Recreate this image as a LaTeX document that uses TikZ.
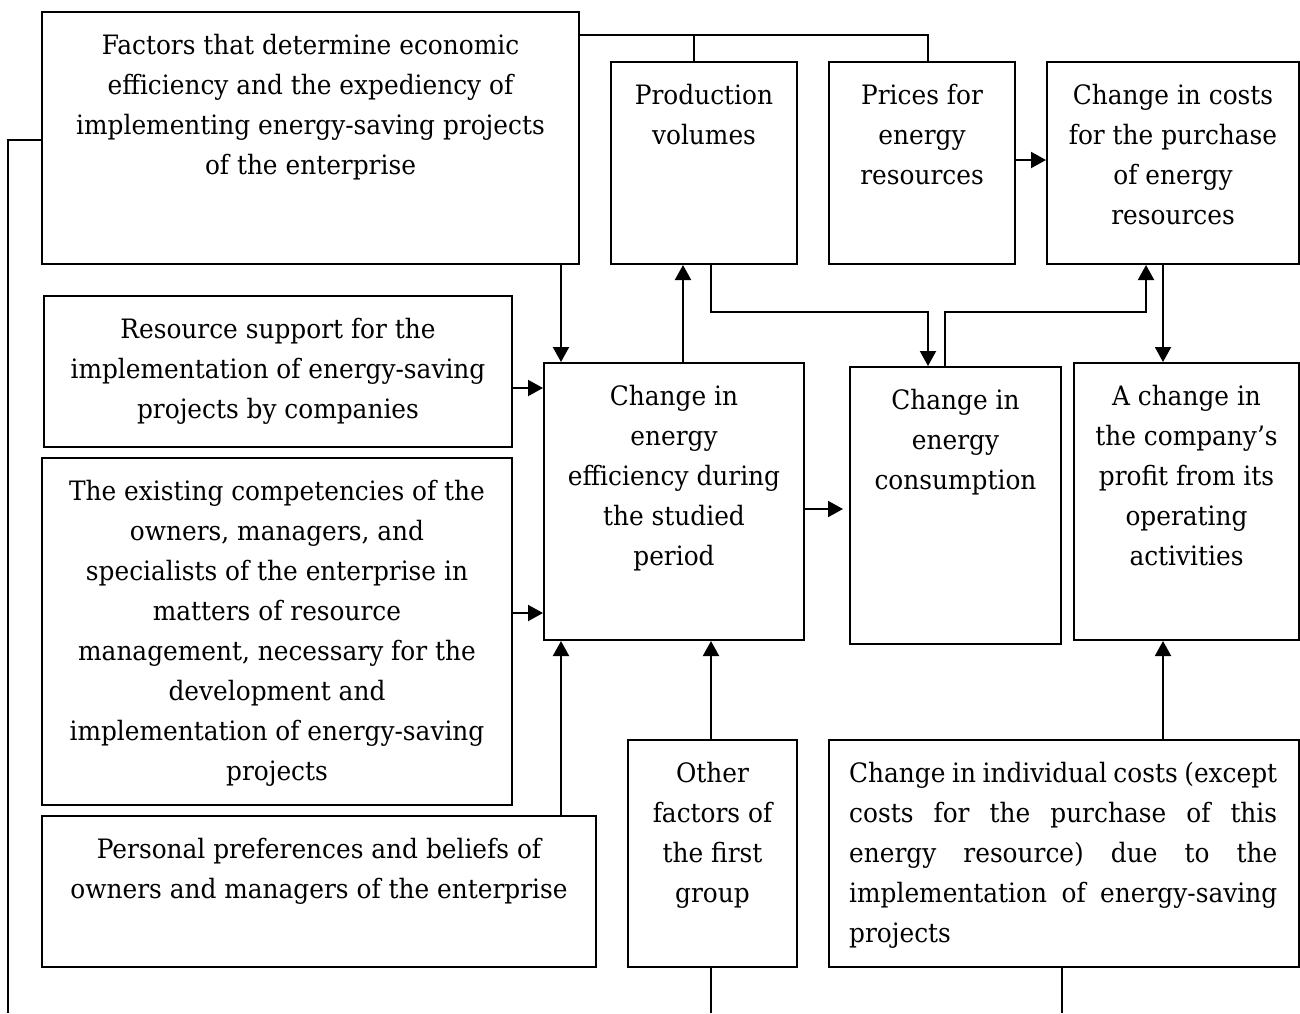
\documentclass[tikz,border=0pt]{standalone}
\usepackage{fontspec}
\setmainfont{DejaVu Serif}[FakeStretch=0.93]
\usetikzlibrary{arrows.meta}
\begin{document}
\begin{tikzpicture}[x=1pt,y=-1pt,
  box/.style={draw, line width=2pt, rectangle, inner sep=0pt, anchor=north west},
  txt/.style={inner sep=0pt, align=center, anchor=north, font={\fontsize{26.7pt}{40pt}\selectfont}},
  conn/.style={line width=2pt},
  arr/.style={line width=2pt, -{Triangle[length=15pt,width=16pt]}}]
\useasboundingbox[fill=white] (0,0) rectangle (1300,1013);
\newcommand{\bx}[5]{\node[box, minimum width=#4-#2, minimum height=#5-#3] (#1) at (#2,#3) {};}
\newcommand{\st}{\rule{0pt}{30pt}}
% boxes
\bx{fac}{41}{11}{578}{263}
\bx{prod}{610}{61}{796}{263}
\bx{price}{828}{61}{1014}{263}
\bx{cost}{1046}{61}{1298}{263}
\bx{res}{43}{295}{511}{446}
\bx{comp}{41}{457}{511}{804}
\bx{pers}{41}{815}{595}{966}
\bx{eff}{543}{362}{803}{639}
\bx{cons}{849}{366}{1060}{643}
\bx{prof}{1073}{362}{1298}{639}
\bx{oth}{627}{739}{796}{966}
\bx{ind}{828}{739}{1298}{966}
% texts
\node[txt] (facT) at ([yshift=-13.5pt]fac.north) {\st Factors that determine economic\\efficiency and the expediency of\\implementing energy-saving projects\\of the enterprise};
\node[txt] (prodT) at ([yshift=-13.5pt]prod.north) {\st Production\\volumes};
\node[txt] (priceT) at ([yshift=-13.5pt]price.north) {\st Prices for\\energy\\resources};
\node[txt] (costT) at ([yshift=-13.5pt]cost.north) {\st Change in costs\\for the purchase\\of energy\\resources};
\node[txt] (resT) at ([yshift=-13.5pt]res.north) {\st Resource support for the\\implementation of energy-saving\\projects by companies};
\node[txt] (compT) at ([yshift=-13.5pt]comp.north) {\st The existing competencies of the\\owners, managers, and\\specialists of the enterprise in\\matters of resource\\management, necessary for the\\development and\\implementation of energy-saving\\projects};
\node[txt] (persT) at ([yshift=-13.5pt]pers.north) {\st Personal preferences and beliefs of\\owners and managers of the enterprise};
\node[txt] (effT) at ([yshift=-13.5pt]eff.north) {\st Change in\\energy\\efficiency during\\the studied\\period};
\node[txt] (consT) at ([yshift=-13.5pt]cons.north) {\st Change in\\energy\\consumption};
\node[txt] (profT) at ([yshift=-13.5pt]prof.north) {\st A change in\\the company’s\\profit from its\\operating\\activities};
\node[txt] (othT) at ([yshift=-13.5pt]oth.north) {\st Other\\factors of\\the first\\group};
\node[txt, align=justify, text width=428pt, anchor=north west] (indT) at (849,752.5) {\st Change in individual costs (except\linebreak costs for the purchase of this\linebreak energy resource) due to the\linebreak implementation of energy-saving\linebreak projects};
% helper coordinates
\coordinate (x8) at (8,0);
\coordinate (x561) at (561,0);
\coordinate (x683) at (683,0);
\coordinate (x694) at (694,0);
\coordinate (x711) at (711,0);
\coordinate (x928) at (928,0);
\coordinate (x945) at (945,0);
\coordinate (x1062) at (1062,0);
\coordinate (x1146) at (1146,0);
\coordinate (x1163) at (1163,0);
\coordinate (y35) at (0,35);
\coordinate (y140) at (0,140);
\coordinate (y160) at (0,160);
\coordinate (y312) at (0,312);
\coordinate (y388) at (0,388);
\coordinate (y509) at (0,509);
\coordinate (y613) at (0,613);
\coordinate (bot) at (0,1013);
% connectors
\draw[conn] (fac.west |- y140) -| (x8 |- bot);
\draw[conn] (fac.east |- y35) -- (x928 |- y35) -- (x928 |- price.north);
\draw[conn] (x694 |- y35) -- (x694 |- prod.north);
\draw[arr] (x561 |- fac.south) -- (x561 |- eff.north);
\draw[arr] (res.east |- y388) -- (eff.west |- y388);
\draw[arr] (comp.east |- y613) -- (eff.west |- y613);
\draw[arr] (x561 |- pers.north) -- (x561 |- eff.south);
\draw[arr] (x711 |- oth.north) -- (x711 |- eff.south);
\draw[arr] (x683 |- eff.north) -- (x683 |- prod.south);
\draw[arr] (x711 |- prod.south) -- (x711 |- y312) -- (x928 |- y312) -- (x928 |- cons.north);
\draw[arr] (x945 |- cons.north) -- (x945 |- y312) -- (x1146 |- y312) -- (x1146 |- cost.south);
\draw[arr] (x1163 |- cost.south) -- (x1163 |- prof.north);
\draw[arr] (price.east |- y160) -- (cost.west |- y160);
\draw[arr] (eff.east |- y509) -- ([xshift=-6pt]cons.west |- y509);
\draw[arr] (x1163 |- ind.north) -- (x1163 |- prof.south);
\draw[conn] (x711 |- oth.south) -- (x711 |- bot);
\draw[conn] (x1062 |- ind.south) -- (x1062 |- bot);
\end{tikzpicture}
\end{document}
